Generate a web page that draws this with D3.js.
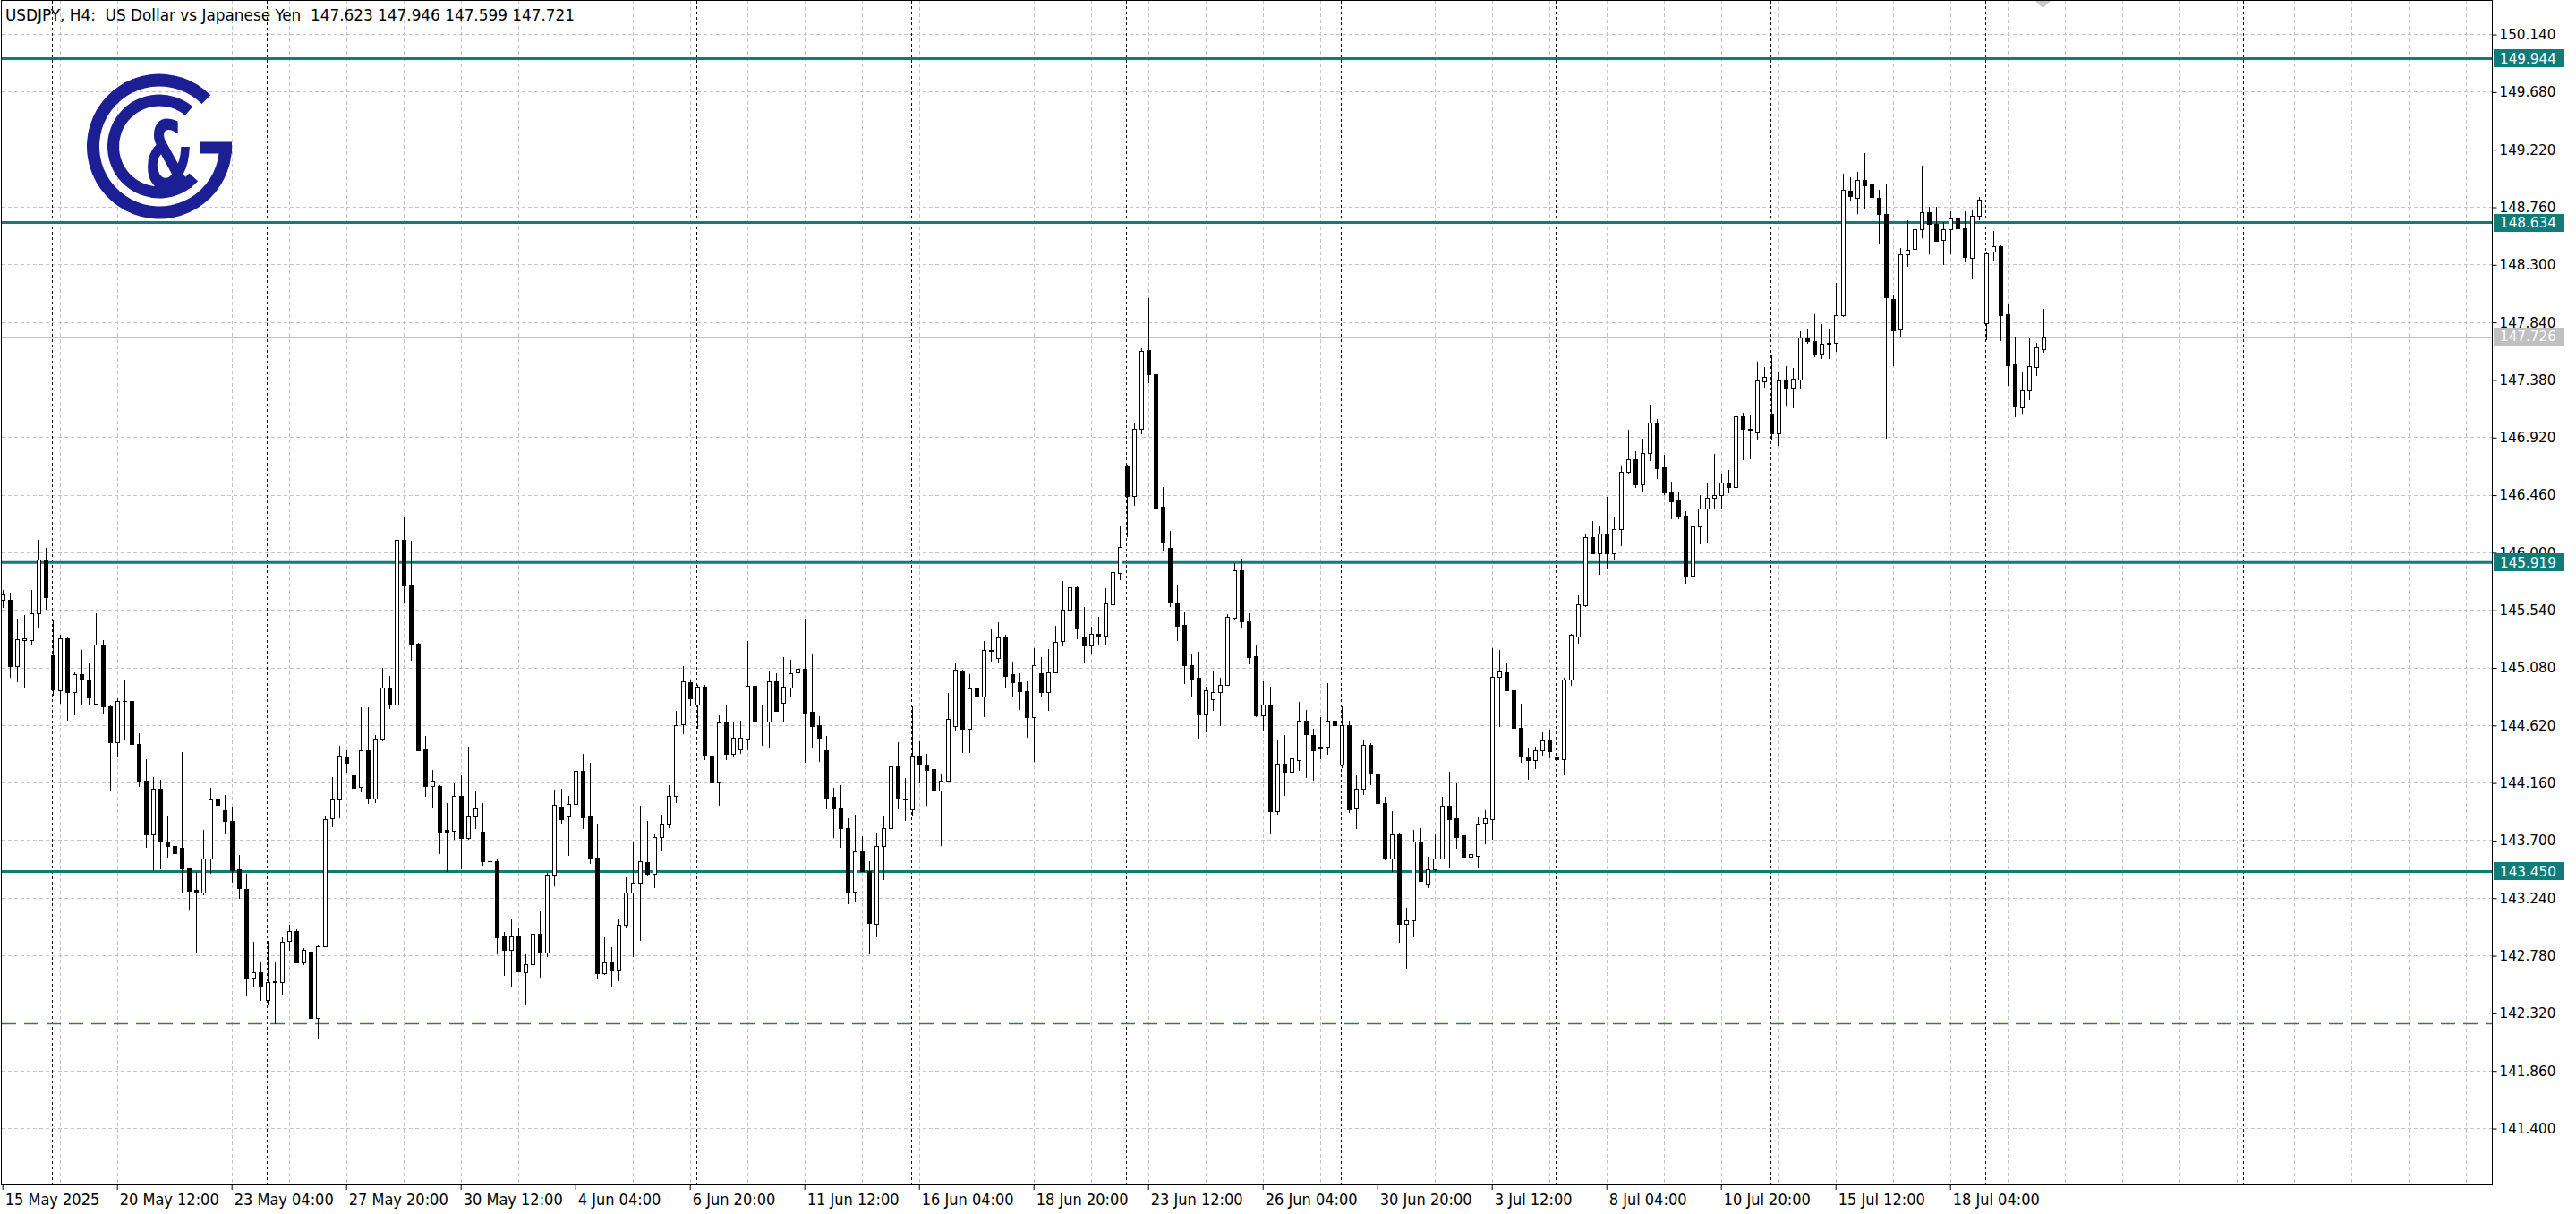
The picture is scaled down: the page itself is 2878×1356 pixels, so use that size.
<!DOCTYPE html>
<html><head><meta charset="utf-8">
<script src="https://cdn.jsdelivr.net/npm/d3@7"></script>
<style>html,body{margin:0;padding:0;background:#fff;overflow:hidden}</style>
</head><body>
<script>
// ---------- DATA (USDJPY H4, bar index 0 = 15 May 2025 20:00) ----------
const opens = [
145.621,145.621,145.092,145.300,145.298,145.514,145.936,145.178,144.895,145.314,
144.881,145.028,144.986,144.791,145.263,144.772,144.486,144.815,144.815,144.468,
144.174,143.744,144.110,143.686,143.651,143.640,143.472,143.304,143.280,143.552,
144.025,143.939,143.854,143.467,143.312,142.604,142.644,142.426,142.566,142.566,
142.893,142.973,142.725,142.810,142.279,142.853,143.872,144.025,144.369,144.220,
144.125,144.421,144.032,144.509,144.916,144.781,146.101,145.744,145.268,144.429,
144.135,144.135,143.781,143.778,144.051,143.720,143.887,143.765,143.535,143.535,
142.929,142.826,142.934,142.648,142.706,142.950,142.799,143.421,143.966,143.892,
143.990,144.252,143.892,143.558,142.635,142.728,142.662,143.024,143.278,143.363,
143.522,143.429,143.728,143.834,144.051,144.628,144.960,144.782,144.925,144.374,
144.160,144.639,144.393,144.429,144.508,144.932,144.644,144.644,144.968,144.794,
144.920,145.039,145.068,144.727,144.620,144.417,144.043,143.953,143.793,143.285,
143.607,143.452,143.028,143.652,143.793,144.293,144.024,143.945,144.374,144.303,
144.267,144.096,144.172,144.608,145.056,144.589,144.918,144.846,145.215,145.156,
145.318,145.025,144.965,144.889,144.685,145.032,144.886,145.044,145.291,145.541,
145.719,145.320,145.254,145.348,145.334,145.584,145.836,146.689,146.451,146.985,
147.614,147.421,146.365,146.034,145.598,145.420,145.096,144.995,144.702,144.823,
144.880,144.943,145.477,145.856,145.449,145.167,144.694,144.786,143.933,144.312,
144.249,144.341,144.656,144.541,144.430,144.450,144.651,144.306,144.622,143.956,
144.114,144.464,144.226,143.994,143.554,143.744,143.032,143.062,143.692,143.356,
143.469,143.551,143.973,143.872,143.737,143.569,143.575,143.841,143.866,145.002,
145.042,144.899,144.599,144.370,144.339,144.416,144.498,144.364,144.349,144.981,
145.326,145.577,146.118,145.995,146.151,145.989,146.188,146.646,146.744,146.545,
146.790,147.034,146.677,146.484,146.417,146.295,145.815,146.209,146.350,146.432,
146.457,146.560,146.520,147.083,146.983,146.959,147.364,147.109,146.952,147.376,
147.316,147.383,147.714,147.690,147.585,147.668,147.673,147.895,148.889,148.829,
148.977,148.936,148.834,148.705,148.026,147.781,148.381,148.424,148.579,148.717,
148.627,148.496,148.584,148.667,148.591,148.353,148.691,147.828,148.400,148.448,
147.900,147.500,147.161,147.297,147.478,147.623];
const highs = [
145.700,145.680,145.469,145.495,145.698,146.101,146.035,145.455,145.341,145.320,
145.042,145.220,145.111,145.514,145.301,144.780,144.833,144.980,144.887,144.556,
144.348,144.201,144.185,143.899,143.771,144.406,143.475,143.445,143.784,144.118,
144.334,144.059,143.966,143.584,143.429,142.890,142.733,142.898,142.733,142.925,
143.027,142.990,142.840,142.933,142.860,143.894,144.201,144.455,144.420,144.342,
144.765,144.765,144.540,145.075,145.011,146.109,146.287,146.094,145.280,144.535,
144.260,144.140,143.993,144.157,144.220,144.445,144.088,143.993,143.641,143.556,
142.966,143.072,143.000,142.786,143.265,143.130,143.442,144.104,144.114,144.051,
144.302,144.390,144.315,143.831,142.927,142.847,143.066,143.400,143.686,143.977,
143.850,143.752,143.903,144.138,144.736,145.091,144.977,144.941,144.939,144.501,
144.698,144.779,144.639,144.655,145.292,144.939,144.779,145.049,145.032,145.163,
145.144,145.249,145.470,145.187,144.691,144.536,144.119,144.143,143.874,143.905,
143.731,143.531,143.762,143.898,144.446,144.484,144.198,144.767,144.489,144.393,
144.339,144.222,144.875,145.113,145.060,145.025,144.939,145.292,145.387,145.442,
145.342,145.127,145.030,144.966,145.231,145.159,145.225,145.411,145.770,145.756,
145.727,145.561,145.406,145.483,145.713,145.957,146.215,146.700,147.039,147.631,
148.033,147.499,146.523,146.172,145.742,145.518,145.190,145.202,144.923,145.053,
144.995,145.506,145.914,145.948,145.512,145.262,144.966,144.923,144.501,144.541,
144.470,144.808,144.742,144.587,144.685,144.952,144.909,144.771,144.656,144.220,
144.501,144.478,144.324,144.043,143.933,143.759,143.163,143.780,143.799,143.569,
143.744,144.043,144.248,144.156,143.740,143.673,143.881,143.936,145.232,145.219,
145.109,144.966,144.792,144.431,144.446,144.559,144.584,144.645,144.996,145.349,
145.653,146.148,146.246,146.212,146.441,146.286,146.692,146.976,146.805,146.906,
147.181,147.065,146.778,146.561,146.478,146.331,146.402,146.457,146.548,146.784,
146.620,146.660,147.185,147.114,147.102,147.526,147.483,147.578,147.447,147.488,
147.471,147.764,147.781,147.900,147.821,147.788,148.150,149.024,148.996,149.039,
149.186,148.948,148.893,148.936,148.060,148.429,148.655,148.805,149.091,148.758,
148.758,148.638,148.727,148.884,148.727,148.734,148.841,148.400,148.567,148.455,
147.983,147.726,147.442,147.714,147.674,147.946];
const lows = [
145.560,145.002,144.967,144.924,145.266,145.402,145.546,144.860,144.799,144.665,
144.708,144.788,144.780,144.788,144.713,144.094,144.372,144.513,144.433,144.129,
143.645,143.459,143.472,143.565,143.285,143.285,143.152,142.805,143.270,143.437,
143.906,143.761,143.366,143.237,142.457,142.533,142.426,142.391,142.240,142.471,
142.821,142.720,142.712,142.258,142.118,142.850,143.811,143.880,144.246,143.852,
144.090,143.998,144.006,144.500,144.755,144.723,145.604,145.141,144.416,144.051,
143.966,143.593,143.455,143.712,143.474,143.712,143.794,143.503,143.410,142.796,
142.622,142.537,142.654,142.384,142.700,142.609,142.775,143.336,143.839,143.580,
143.676,143.794,143.514,142.604,142.630,142.529,142.577,143.010,142.776,142.899,
143.420,143.325,143.627,143.805,144.006,144.554,144.775,144.600,144.350,144.043,
143.981,144.350,144.377,144.398,144.429,144.429,144.458,144.446,144.730,144.655,
144.846,145.030,144.322,144.443,144.329,143.957,143.726,143.643,143.195,143.207,
143.450,142.797,142.928,143.385,143.757,143.957,143.857,143.893,144.160,143.981,
143.981,143.660,144.170,144.579,144.405,144.405,144.286,144.691,145.137,145.127,
144.929,144.858,144.744,144.529,144.335,144.852,144.742,145.040,145.254,145.354,
145.311,145.124,145.196,145.268,145.262,145.569,145.785,146.129,146.379,146.947,
147.355,146.230,146.020,145.569,145.297,144.952,144.857,144.521,144.570,144.742,
144.616,144.940,145.460,145.397,145.110,144.690,144.579,143.761,143.910,144.062,
144.140,144.263,144.206,144.185,144.355,144.392,144.587,144.283,143.927,143.795,
144.071,144.148,143.958,143.545,143.453,142.888,142.680,142.934,143.377,143.325,
143.453,143.550,143.490,143.637,143.565,143.459,143.490,143.676,143.707,144.614,
144.899,144.578,144.324,144.187,144.278,144.385,144.364,144.278,144.226,144.941,
145.277,145.568,145.995,145.827,145.876,145.943,146.056,146.637,146.524,146.487,
146.738,146.594,146.463,146.273,146.273,145.754,145.766,146.072,146.087,146.350,
146.360,146.480,146.470,146.740,146.750,146.911,147.321,146.899,146.859,147.178,
147.157,147.316,147.674,147.566,147.554,147.554,147.609,147.890,148.817,148.710,
148.746,148.627,148.472,146.918,147.495,147.733,148.286,148.369,148.519,148.388,
148.488,148.300,148.388,148.507,148.322,148.186,148.662,147.700,148.336,147.693,
147.340,147.085,147.114,147.221,147.416,147.599];
const closes = [
145.661,145.092,145.306,145.310,145.514,145.941,145.640,144.903,145.314,144.881,
145.028,144.980,144.841,145.263,144.767,144.486,144.815,144.812,144.465,144.171,
143.744,144.110,143.686,143.651,143.593,143.477,143.298,143.280,143.552,144.025,
143.980,143.854,143.459,143.317,142.604,142.644,142.538,142.566,142.570,142.888,
142.973,142.725,142.826,142.279,142.853,143.867,144.025,144.374,144.318,144.120,
144.421,144.032,144.509,144.916,144.781,146.096,145.744,145.263,144.421,144.135,
144.178,143.768,143.765,144.051,143.720,143.892,143.955,143.535,143.530,142.923,
142.826,142.934,142.654,142.706,142.950,142.799,143.421,143.982,143.871,143.987,
144.252,143.884,143.553,142.635,142.720,142.662,143.024,143.278,143.363,143.530,
143.429,143.728,143.834,144.051,144.622,144.966,144.834,144.929,144.381,144.160,
144.639,144.393,144.517,144.517,144.932,144.644,144.650,144.968,144.732,144.925,
145.032,145.068,144.722,144.615,144.517,144.036,143.953,143.793,143.285,143.607,
143.452,143.035,143.652,143.793,144.293,144.031,144.026,144.374,144.303,144.262,
144.096,144.172,144.667,145.060,144.589,144.910,144.846,145.222,145.220,145.318,
145.013,144.965,144.887,144.682,145.101,144.886,145.044,145.282,145.541,145.719,
145.391,145.254,145.348,145.325,145.592,145.842,146.043,146.451,146.985,147.608,
147.421,146.359,146.086,145.604,145.411,145.096,144.989,144.702,144.900,144.886,
144.943,145.483,145.856,145.449,145.162,144.694,144.786,143.933,144.312,144.249,
144.355,144.656,144.550,144.421,144.450,144.651,144.622,144.622,143.947,144.114,
144.464,144.229,143.994,143.554,143.744,143.032,143.062,143.692,143.377,143.469,
143.551,143.973,143.866,143.728,143.569,143.588,143.835,143.872,145.005,145.051,
144.899,144.599,144.376,144.339,144.416,144.498,144.410,144.350,144.981,145.339,
145.586,146.118,145.995,146.151,145.989,146.188,146.646,146.744,146.545,146.790,
147.034,146.671,146.478,146.408,146.295,145.806,146.209,146.350,146.438,146.457,
146.560,146.520,147.083,146.983,146.978,147.369,147.404,146.952,147.376,147.311,
147.388,147.716,147.685,147.583,147.666,147.670,147.897,148.896,148.846,148.977,
148.929,148.836,148.703,148.036,147.776,148.381,148.417,148.584,148.717,148.627,
148.488,148.584,148.667,148.586,148.360,148.691,148.817,148.388,148.448,147.895,
147.495,147.166,147.297,147.488,147.638,147.721];

const xTickLabels = ["15 May 2025","20 May 12:00","23 May 04:00","27 May 20:00","30 May 12:00",
  "4 Jun 04:00","6 Jun 20:00","11 Jun 12:00","16 Jun 04:00","18 Jun 20:00","23 Jun 12:00",
  "26 Jun 04:00","30 Jun 20:00","3 Jul 12:00","8 Jul 04:00","10 Jul 20:00","15 Jul 12:00","18 Jul 04:00"];
const xTickBars = [0,16,32,48,64,80,96,112,128,144,160,176,192,208,224,240,256,272];
const yTickValues = [141.40,141.86,142.32,142.78,143.24,143.70,144.16,144.62,145.08,145.54,
  146.00,146.46,146.92,147.38,147.84,148.30,148.76,149.22,149.68,150.14];
const levelLines = [149.944, 148.634, 145.919, 143.450];
const lastPrice = 147.726;
const dashedLevel = 142.24;
const weekSeparatorBars = [7,37,67,97,127,157,187,217,247,277,313];
const gridBars = [8,16,24,32,40,48,56,64,72,80,88,96,104,112,120,128,136,144,152,160,168,176,
  184,192,200,208,216,224,232,240,248,256,264,272,280,288,296,304,312,320,328,336,344];
const headerText = "USDJPY, H4:  US Dollar vs Japanese Yen  147.623 147.946 147.599 147.721";

// ---------- LAYOUT ----------
const W = 2878, H = 1356;
const plot = {left: 2, right: 2784, top: 1, bottom: 1323};
const TEAL = "#0f7c79", BLUE = "#1b1f93";
const condFont = "'DejaVu Sans Condensed','DejaVu Sans',sans-serif";
const axisFont = "'DejaVu Sans',sans-serif";

const svg = d3.select("body").append("svg")
  .attr("width", W).attr("height", H).style("display", "block");
svg.append("rect").attr("width", W).attr("height", H).attr("fill", "#fff");

const x = d3.scaleLinear().domain([0, 285]).range([2.7, 2282.7]);
const y = d3.scaleLinear().domain([141.40, 150.14]).range([1260.0, 38.07]);
const cx = i => Math.round(x(i)) + 0.5;
const cy = v => Math.round(y(v)) + 0.5;

const clipG = svg.append("g");

// grid
const grid = clipG.append("g").attr("stroke", "#c4c4c4").attr("stroke-width", 1).attr("stroke-dasharray", "4,3");
grid.selectAll("line.h").data(yTickValues).join("line")
  .attr("x1", plot.left).attr("x2", plot.right)
  .attr("y1", d => cy(d)).attr("y2", d => cy(d));
grid.selectAll("line.v").data(gridBars).join("line")
  .attr("x1", d => cx(d)).attr("x2", d => cx(d))
  .attr("y1", plot.top).attr("y2", plot.bottom);

// week separators
clipG.append("g").attr("stroke", "#000").attr("stroke-width", 1).attr("stroke-dasharray", "3,3")
  .selectAll("line").data(weekSeparatorBars).join("line")
  .attr("x1", d => cx(d) - 1).attr("x2", d => cx(d) - 1)
  .attr("y1", plot.top).attr("y2", plot.bottom);

// last price line
clipG.append("line").attr("x1", plot.left).attr("x2", plot.right)
  .attr("y1", cy(lastPrice)).attr("y2", cy(lastPrice))
  .attr("stroke", "#c0c0c0").attr("stroke-width", 1);

// dashed level
clipG.append("line").attr("x1", plot.left).attr("x2", plot.right)
  .attr("y1", cy(dashedLevel)).attr("y2", cy(dashedLevel))
  .attr("stroke", "#3c7d3c").attr("stroke-width", 1.4).attr("stroke-dasharray", "16,9");

// teal levels
clipG.append("g").selectAll("line").data(levelLines).join("line")
  .attr("x1", plot.left).attr("x2", plot.right)
  .attr("y1", d => y(d)).attr("y2", d => y(d))
  .attr("stroke", TEAL).attr("stroke-width", 3);

// candles
const bars = d3.range(opens.length);
const cg = clipG.append("g");
cg.selectAll("line.wick").data(bars).join("line").attr("class", "wick")
  .attr("x1", i => cx(i)).attr("x2", i => cx(i))
  .attr("y1", i => Math.round(y(Math.max(highs[i], opens[i], closes[i]))))
  .attr("y2", i => Math.round(y(Math.min(lows[i], opens[i], closes[i]))) + 1)
  .attr("stroke", "#000").attr("stroke-width", 1);
cg.selectAll("rect.body").data(bars).join("rect").attr("class", "body")
  .each(function(i) {
    const top = Math.round(y(Math.max(opens[i], closes[i])));
    const bot = Math.round(y(Math.min(opens[i], closes[i])));
    const left = Math.round(x(i)) - 2;
    const bull = closes[i] > opens[i];
    const r = d3.select(this);
    if (bot - top < 2) {
      r.attr("x", left).attr("y", top).attr("width", 5).attr("height", Math.max(1, bot - top + 1))
       .attr("fill", "#000");
    } else if (bull) {
      r.attr("x", left + 0.5).attr("y", top + 0.5).attr("width", 4).attr("height", bot - top)
       .attr("fill", "#fff").attr("stroke", "#000").attr("stroke-width", 1);
    } else {
      r.attr("x", left).attr("y", top).attr("width", 5).attr("height", bot - top + 1)
       .attr("fill", "#000");
    }
  });

// frame
svg.append("rect").attr("x", 1.5).attr("y", 0.5)
  .attr("width", plot.right - 1.5 + 0.5).attr("height", plot.bottom - 0.5 + 0.5)
  .attr("fill", "none").attr("stroke", "#000").attr("stroke-width", 1);

// right axis
const yAxis = d3.axisRight(y).tickValues(yTickValues).tickFormat(d3.format(".3f")).tickSize(5).tickPadding(3);
const ya = svg.append("g").attr("transform", `translate(${plot.right + 0.5},0.5)`).call(yAxis);
ya.select(".domain").remove();
ya.selectAll(".tick line").attr("stroke", "#000");
ya.selectAll(".tick text").attr("font-family", axisFont).attr("font-size", 15.2).attr("fill", "#000");

// bottom axis
const xAxis = d3.axisBottom(x).tickValues(xTickBars).tickFormat((d, k) => xTickLabels[k]).tickSize(6);
const xa = svg.append("g").attr("transform", `translate(0.5,${plot.bottom})`).call(xAxis);
xa.select(".domain").remove();
xa.selectAll(".tick line").attr("stroke", "#000").attr("transform", "translate(-0.5,0)");
xa.selectAll(".tick text").attr("font-family", condFont).attr("font-stretch", "condensed")
  .attr("font-size", 18).attr("fill", "#000").attr("text-anchor", "start")
  .attr("x", 2).attr("y", 10).attr("dy", "0.71em");

// price tags (drawn over the axis labels, as in the terminal)
const tagG = svg.append("g");
function tag(v, bg) {
  tagG.append("rect").attr("x", 2786).attr("y", Math.round(y(v)) - 10).attr("width", 79).attr("height", 20).attr("fill", bg);
  tagG.append("text").attr("x", 2793).attr("y", y(v) + 0.5).attr("dy", "0.35em")
    .attr("font-family", axisFont).attr("font-size", 15.2).attr("fill", "#fff")
    .text(d3.format(".3f")(v));
}
levelLines.forEach(v => tag(v, TEAL));
tag(lastPrice, "#c0c0c0");

// header
svg.append("text").attr("x", 6).attr("y", 23)
  .attr("font-family", condFont).attr("font-stretch", "condensed").attr("font-size", 18)
  .attr("textLength", 636).attr("lengthAdjust", "spacingAndGlyphs")
  .attr("fill", "#000").attr("xml:space", "preserve").style("white-space", "pre").text(headerText);

// shift marker
svg.append("path").attr("d", "M2274,1 L2291,1 L2282.5,9 Z").attr("fill", "#c8c8c8");

// logo
const logo = svg.append("g").attr("transform", "translate(178,163.5)");
const arc = d3.arc();
logo.append("path").attr("d", arc({innerRadius: 67, outerRadius: 81, startAngle: -1.5 * Math.PI, endAngle: Math.PI / 4})).attr("fill", BLUE);
logo.append("path").attr("d", arc({innerRadius: 45, outerRadius: 58, startAngle: -228 * Math.PI / 180, endAngle: 40 * Math.PI / 180})).attr("fill", BLUE);
logo.append("rect").attr("x", 46).attr("y", -5).attr("width", 35).attr("height", 13).attr("fill", BLUE);
logo.append("text").attr("transform", "translate(11,47) scale(0.6,1)").attr("text-anchor", "middle")
  .attr("font-family", "'DejaVu Sans',sans-serif").attr("font-weight", "bold").attr("font-size", 106)
  .attr("fill", BLUE).text("&");
</script>
</body></html>
